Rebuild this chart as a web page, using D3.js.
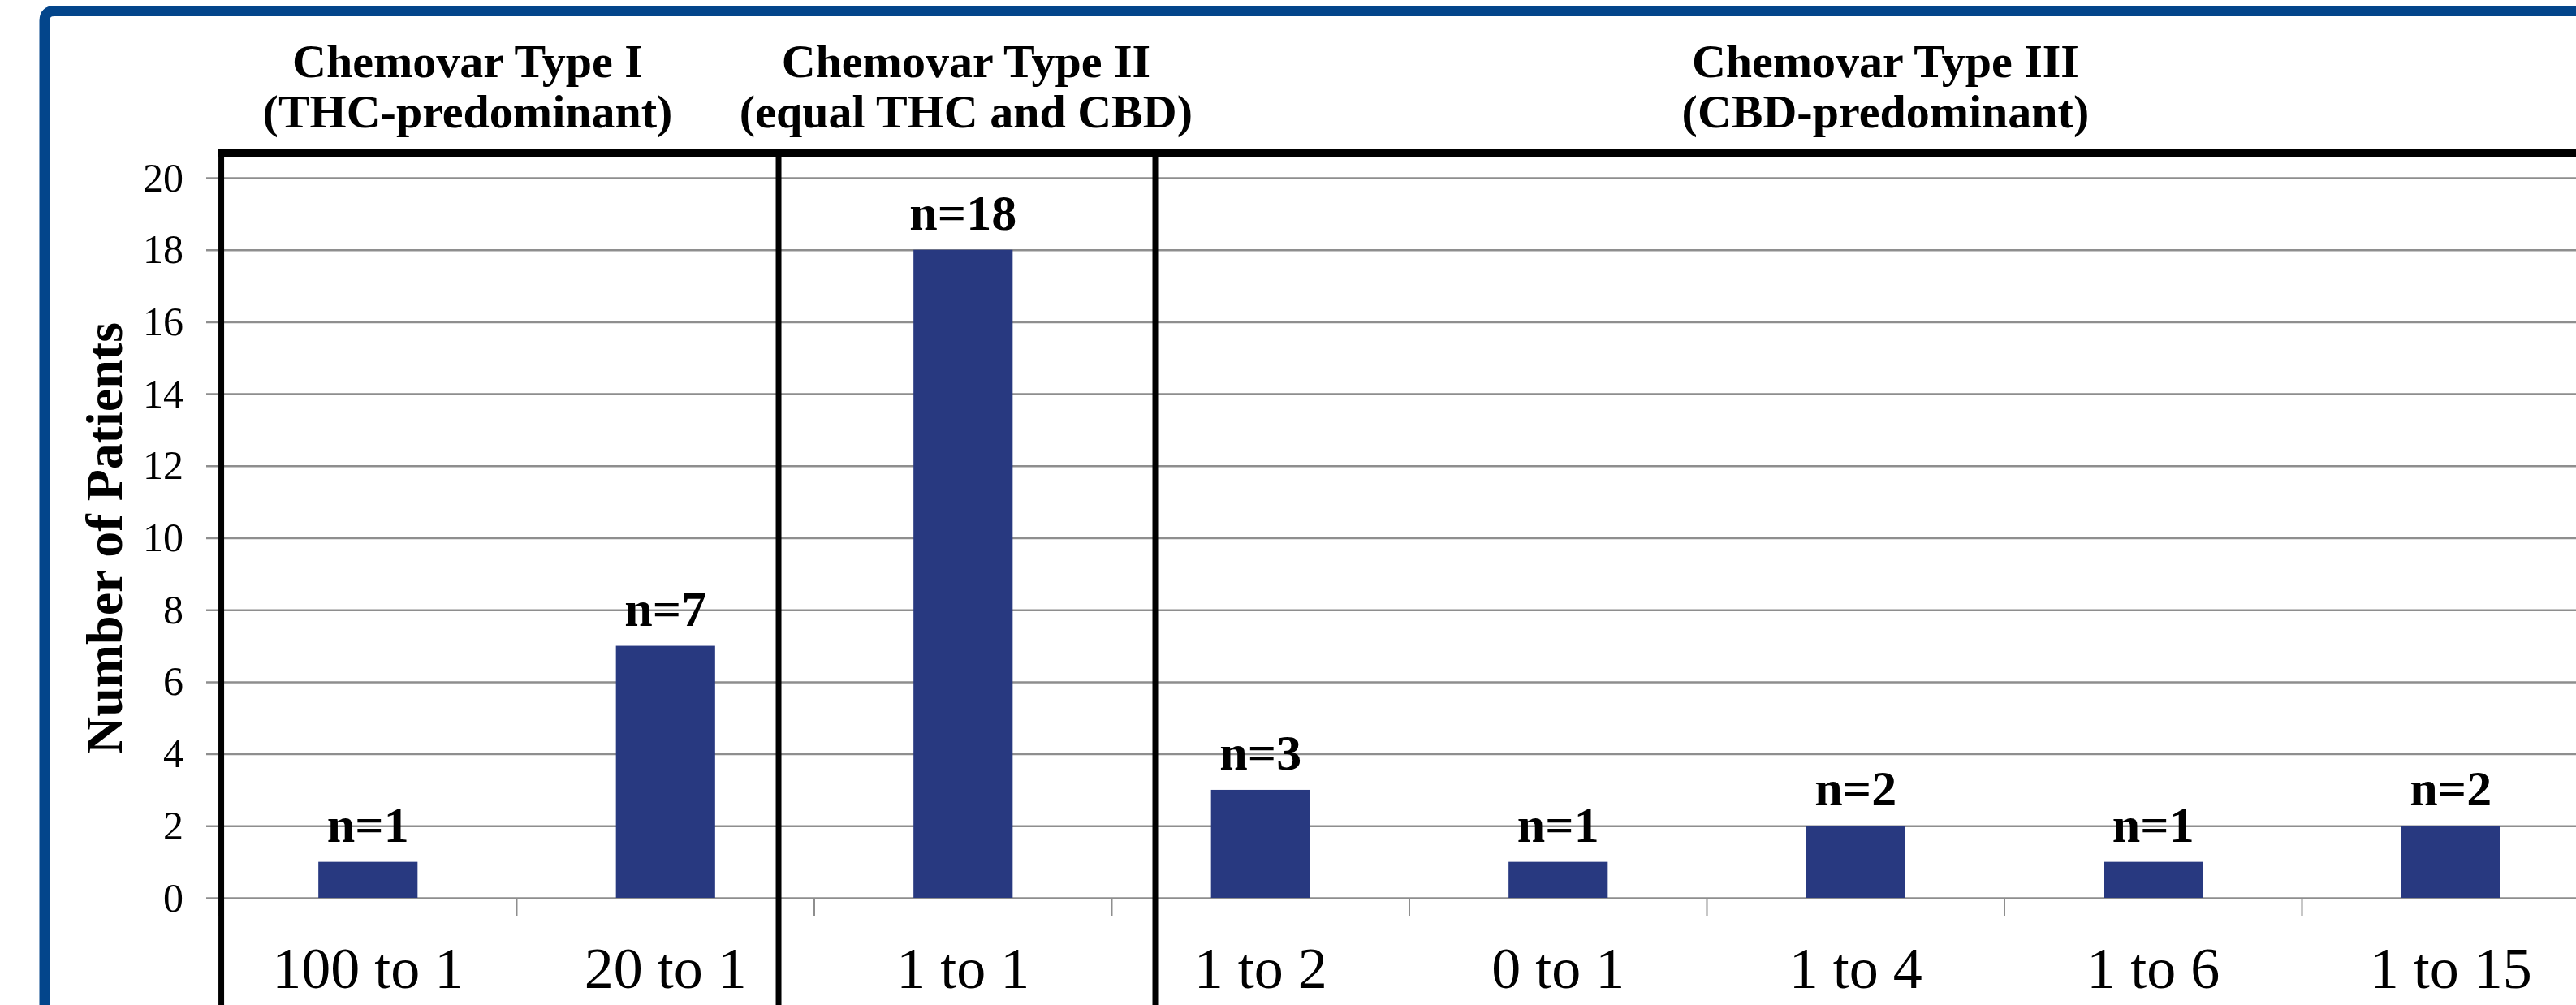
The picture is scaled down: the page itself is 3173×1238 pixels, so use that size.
<!DOCTYPE html>
<html>
<head>
<meta charset="utf-8">
<script src="https://cdn.jsdelivr.net/npm/d3@7"></script>
<style>
  html, body { margin: 0; padding: 0; background: #ffffff; }
  svg { display: block; }
  text { font-family: "Liberation Serif", "Times New Roman", serif; fill: #000; }
</style>
</head>
<body>
<svg id="chart" width="3173" height="1238"></svg>
<script>
// ---- data ----
const categories = ["100 to 1", "20 to 1", "1 to 1", "1 to 2", "0 to 1", "1 to 4", "1 to 6", "1 to 15"];
const patients = [1, 7, 18, 3, 1, 2, 1, 2];
const yTicks = [0, 2, 4, 6, 8, 10, 12, 14, 16, 18, 20];
const groupTitles = ["Chemovar Type I", "Chemovar Type II", "Chemovar Type III"];
const groupSubtitles = ["(THC-predominant)", "(equal THC and CBD)", "(CBD-predominant)"];
const yTitle = "Number of Patients";

// ---- layout ----
const W = 3173, H = 1238;
const plotLeft = 270, step = 366.5;
const plotRight = plotLeft + step * categories.length;
const yZero = 1106, yTop = 219;
const frameTop = 188;
const barColor = "#283980";
const gridColor = "#8e8e8e";
const blue = "#03458b";

const svg = d3.select("#chart");

const x = d3.scaleBand()
  .domain(categories)
  .range([plotLeft, plotRight])
  .paddingInner(2 / 3)
  .paddingOuter(1 / 3);

const y = d3.scaleLinear().domain([0, 20]).range([yZero, yTop]);

// position helper in "category units" for decorations
const xu = u => plotLeft + x.step() * u;

// blue outer frame (extends beyond the view on right/bottom)
svg.append("path")
  .attr("d", `M ${W + 20} 13.5 L 67 13.5 Q 55 13.5 55 25.5 L 55 ${H + 20}`)
  .attr("fill", "none")
  .attr("stroke", blue)
  .attr("stroke-width", 13);

// gridlines + y axis ticks
const yAxis = d3.axisLeft(y)
  .tickValues(yTicks)
  .tickSize(-(W - plotLeft))
  .tickPadding(44)
  .tickFormat(d3.format("d"));

const gy = svg.append("g")
  .attr("transform", `translate(${plotLeft},0)`)
  .call(yAxis);
gy.select(".domain").remove();
gy.selectAll(".tick line")
  .attr("x1", -16)
  .attr("stroke", gridColor)
  .attr("stroke-width", 2.5);
gy.selectAll(".tick text")
  .attr("font-size", 50)
  .attr("font-family", "Liberation Serif, Times New Roman, serif")
  .attr("fill", "#000");

// x axis (category boundary ticks) and labels
const boundaries = d3.range(1, categories.length).map(i => xu(i));
svg.append("g").selectAll("line")
  .data(boundaries)
  .join("line")
  .attr("x1", d => d).attr("x2", d => d)
  .attr("y1", yZero).attr("y2", yZero + 22)
  .attr("stroke", gridColor)
  .attr("stroke-width", 2);

svg.append("line")
  .attr("x1", plotLeft - 1).attr("x2", plotLeft - 1)
  .attr("y1", yTop - 2).attr("y2", yZero + 22)
  .attr("stroke", gridColor)
  .attr("stroke-width", 2);

svg.append("g").selectAll("text")
  .data(categories)
  .join("text")
  .attr("x", d => x(d) + x.bandwidth() / 2)
  .attr("y", 1217)
  .attr("text-anchor", "middle")
  .attr("font-size", 72)
  .text(d => d);

// bars
svg.append("g").selectAll("rect")
  .data(categories)
  .join("rect")
  .attr("x", d => x(d))
  .attr("width", x.bandwidth())
  .attr("y", (d, i) => y(patients[i]))
  .attr("height", (d, i) => yZero - y(patients[i]))
  .attr("fill", barColor);

// value labels
svg.append("g").selectAll("text")
  .data(categories)
  .join("text")
  .attr("x", d => x(d) + x.bandwidth() / 2)
  .attr("y", (d, i) => y(patients[i]) - 25)
  .attr("text-anchor", "middle")
  .attr("font-size", 62)
  .attr("font-weight", "bold")
  .text((d, i) => "n=" + patients[i]);

// black frame lines: top, left, group dividers
svg.append("line")
  .attr("x1", plotLeft - 2).attr("x2", W + 5)
  .attr("y1", frameTop).attr("y2", frameTop)
  .attr("stroke", "#000").attr("stroke-width", 10);

const dividers = [0.007, 1.88, 3.146].map(u => xu(u));
svg.append("g").selectAll("line")
  .data(dividers)
  .join("line")
  .attr("x1", d => d).attr("x2", d => d)
  .attr("y1", frameTop - 5).attr("y2", H + 5)
  .attr("stroke", "#000")
  .attr("stroke-width", 7);

// group headers
const headerCenters = [0.835, 2.51, 5.6].map(u => xu(u));
const hdr = svg.append("g");
hdr.selectAll("text.t1")
  .data(groupTitles)
  .join("text")
  .attr("class", "t1")
  .attr("x", (d, i) => headerCenters[i])
  .attr("y", 95)
  .attr("text-anchor", "middle")
  .attr("font-size", 58)
  .attr("font-weight", "bold")
  .text(d => d);
hdr.selectAll("text.t2")
  .data(groupSubtitles)
  .join("text")
  .attr("class", "t2")
  .attr("x", (d, i) => headerCenters[i])
  .attr("y", 157)
  .attr("text-anchor", "middle")
  .attr("font-size", 58)
  .attr("font-weight", "bold")
  .text(d => d);

// y axis title
svg.append("text")
  .attr("transform", `translate(150, 663) rotate(-90)`)
  .attr("text-anchor", "middle")
  .attr("font-size", 64)
  .attr("font-weight", "bold")
  .text(yTitle);
</script>
</body>
</html>
